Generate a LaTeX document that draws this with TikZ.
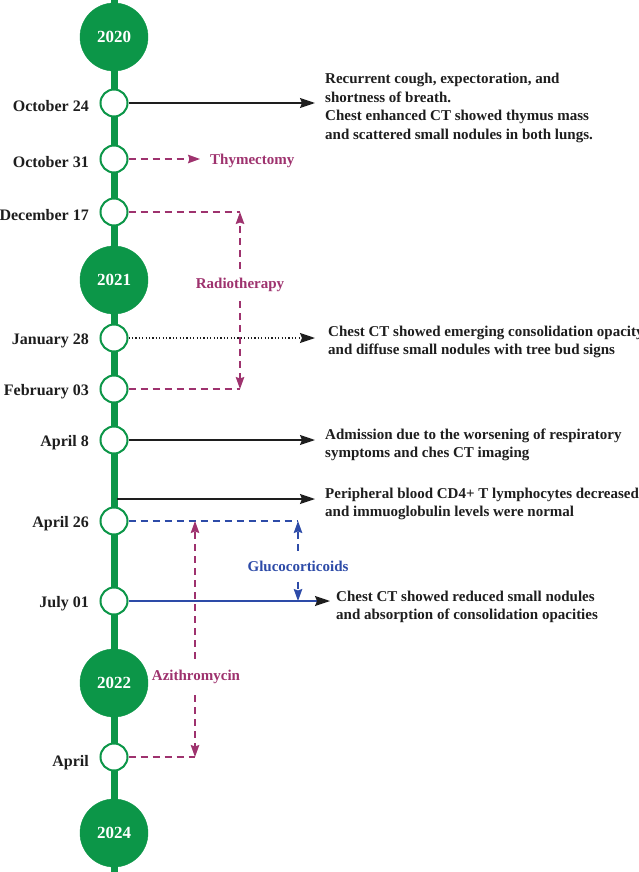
\documentclass[tikz,border=0pt]{standalone}
\usepackage{fontspec}
\setmainfont{Liberation Serif}
\usetikzlibrary{arrows.meta}
\definecolor{tlgreen}{RGB}{12,150,72}
\definecolor{tlpurple}{RGB}{158,50,110}
\definecolor{tlblue}{RGB}{45,75,168}
\definecolor{tltext}{RGB}{30,30,30}
\definecolor{tlline}{RGB}{30,30,30}
\tikzset{
  year/.style={circle,fill=tlgreen,draw=tlgreen,minimum size=68pt,inner sep=0pt,text=white,font=\fontsize{17}{20}\selectfont\bfseries},
  event/.style={circle,fill=white,draw=tlgreen,line width=2pt,minimum size=27pt,inner sep=0pt},
  datelab/.style={anchor=east,inner sep=0pt,text=tltext,font=\fontsize{16}{19}\selectfont\bfseries},
  desc/.style={anchor=west,inner sep=0pt,align=left,text=tltext,font=\fontsize{15}{18.7}\selectfont\bfseries},
  treat/.style={inner xsep=0pt,inner ysep=9pt,font=\fontsize{15}{18}\selectfont\bfseries},
  tip/.style={-{Stealth[length=15pt,width=10pt,inset=2pt]}},
  smalltip/.style={-{Stealth[length=12pt,width=8.5pt,inset=1.5pt]}},
  solidarrow/.style={tlline,line width=1.4pt,tip},
  dotarrow/.style={tlline,line width=1.4pt,dash pattern=on 1.2pt off 2.2pt,tip},
  purpdash/.style={tlpurple,line width=1.5pt,dash pattern=on 7pt off 5pt},
  bluedash/.style={tlblue,line width=1.5pt,dash pattern=on 7pt off 5pt},
}
\begin{document}
\begin{tikzpicture}[x=1pt,y=-1pt]
\useasboundingbox (0,0) rectangle (639,872);
\fill[white] (0,0) rectangle (639,872);
% main timeline
\coordinate (top) at (114,0);
\coordinate (bot) at (114,872);
\draw[tlgreen,line width=7pt] (top) -- (bot);
% years
\node[year] (y2020) at (114,37) {2020};
\node[year] (y2021) at (114,280) {2021};
\node[year] (y2022) at (114,683) {2022};
\node[year] (y2024) at (114,833) {2024};
% events
\node[event] (e1) at (114,103) {};
\node[event] (e2) at (114,159) {};
\node[event] (e3) at (114,212) {};
\node[event] (e4) at (114,338) {};
\node[event] (e5) at (114,389) {};
\node[event] (e6) at (114,440) {};
\node[event] (e7) at (114,521) {};
\node[event] (e8) at (114,601) {};
\node[event] (e9) at (114,757) {};
% date labels
\node[datelab] (l1) at (89,106) {October 24};
\node[datelab] (l2) at (89,162) {October 31};
\node[datelab] (l3) at (89,215) {December 17};
\node[datelab] (l4) at (89,341) {January 28};
\node[datelab] (l5) at (89,392) {February 03};
\node[datelab] (l6) at (89,443) {April 8};
\node[datelab] (l7) at (89,524) {April 26};
\node[datelab] (l8) at (89,604) {July 01};
\node[datelab] (l9) at (89,763) {April};
% descriptions
\node[desc] (d1) at (325,108) {Recurrent cough, expectoration, and\\shortness of breath.\\Chest enhanced CT showed thymus mass\\and scattered small nodules in both lungs.};
\node[desc] (d2) at (328,342) {Chest CT showed emerging consolidation opacity\\and diffuse small nodules with tree bud signs};
\node[desc] (d3) at (325,445) {Admission due to the worsening of respiratory\\symptoms and ches CT imaging};
\node[desc] (d4) at (325,504) {Peripheral blood CD4+ T lymphocytes decreased\\and immuoglobulin levels were normal};
\node[desc] (d5) at (336,607) {Chest CT showed reduced small nodules\\and absorption of consolidation opacities};
% arrow end points
\coordinate (a1) at (315,103);
\coordinate (a4) at (315,338);
\coordinate (a6) at (315,440);
\coordinate (m7) at (117,499);
\coordinate (a7) at (315,499);
\coordinate (a8) at (330,601);
\draw[solidarrow] (e1) -- (a1);
\draw[dotarrow] (e4) -- (a4);
\draw[solidarrow] (e6) -- (a6);
\draw[solidarrow] (m7) -- (a7);
\draw[tlblue,line width=1.4pt,-{Stealth[length=15pt,width=10pt,inset=2pt,color=tlline]}] (e8) -- (a8);
% thymectomy
\node[treat,anchor=west,text=tlpurple] (thy) at (210,161) {Thymectomy};
\coordinate (t2) at (200,159);
\draw[purpdash,smalltip] (e2) -- (t2);
% radiotherapy
\node[treat,text=tlpurple] (rad) at (240,285) {Radiotherapy};
\coordinate (r1) at (240,212);
\coordinate (r2) at (240,389);
\draw[purpdash] (e3) -- (r1);
\draw[purpdash] (e5) -- (r2);
\draw[purpdash,smalltip] (rad) -- (r1);
\draw[purpdash,smalltip] (rad) -- (r2);
% glucocorticoids
\node[treat,text=tlblue,inner ysep=10pt] (glu) at (298,566) {Glucocorticoids};
\coordinate (g1) at (298,521);
\coordinate (g2) at (298,601);
\draw[bluedash] (e7) -- (g1);
\draw[bluedash,smalltip] (glu) -- (g1);
\draw[bluedash,smalltip] (glu) -- (g2);
% azithromycin
\node[treat,text=tlpurple,inner ysep=11pt] (azi) at (196,677) {Azithromycin};
\coordinate (z1) at (195,521);
\coordinate (z2) at (195,757);
\draw[purpdash] (e9) -- (z2);
\draw[purpdash,smalltip] (azi.north -| z1) -- (z1);
\draw[purpdash,smalltip] (azi.south -| z2) -- (z2);
\end{tikzpicture}
\end{document}
